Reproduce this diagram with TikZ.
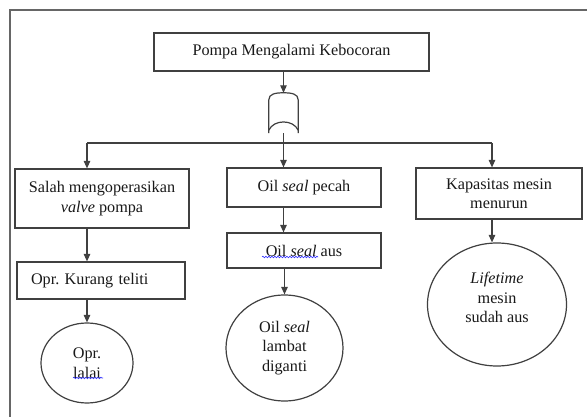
\documentclass[tikz,border=0pt]{standalone}
\usepackage{fontspec}
\setmainfont{Liberation Serif}
\frenchspacing
\usetikzlibrary{shapes.geometric,arrows.meta,decorations.pathmorphing,calc}
\begin{document}
\begin{tikzpicture}[x=1pt,y=-1pt,
  every node/.style={font=\fontsize{16.2}{19.5}\selectfont, text=black!90},
  box/.style={draw=black!75, line width=1.2pt, inner sep=0pt, align=center},
  oval/.style={draw=black!75, line width=1.2pt, ellipse, inner sep=0pt, align=center},
  link/.style={draw=black!75, line width=1.1pt},
  arr/.style={link, -{Triangle[length=7.5pt,width=6.5pt]}},
  squiggle/.style={draw=blue!80, line width=0.6pt, decorate,
    decoration={snake, amplitude=0.8pt, segment length=3pt}}]
\useasboundingbox (0,0) rectangle (587,417);
\fill[white] (0,0) rectangle (587,417);
% outer frame
\draw[gray!80!black, line width=1.6pt] (10,430) -- (10,10) -- (600,10);

% boxes
\node[box, minimum width=275pt, minimum height=38pt] (top) at (291.5,52) {Pompa Mengalami Kebocoran};
\node[minimum width=29pt, minimum height=40pt, inner sep=0pt] (gate) at (283.5,113) {};
\node[box, minimum width=174pt, minimum height=59pt] (salah) at (102,198.5) {Salah mengoperasikan\\\textit{valve} pompa};
\node[box, minimum width=154pt, minimum height=39pt] (pecah) at (304,187.5) {Oil \textit{seal} pecah};
\node[box, minimum width=166pt, minimum height=51pt] (kap) at (499,193.5) {Kapasitas mesin\\menurun};
\node[box, minimum height=37pt, text width=140pt, inner xsep=14pt, align=left] (opr) at (101,280.5) {Opr. Kurang teliti};
\node[box, minimum width=154pt, minimum height=35pt] (aus) at (304,250.5) {Oil \textit{seal} aus};

% end events
\node[oval, minimum width=92pt, minimum height=80pt] (lalai) at (87,363) {Opr.\\lalai};
\node[oval, minimum width=117pt, minimum height=106pt] (lambat) at (284.5,348) {Oil \textit{seal}\\lambat\\diganti};
\node[oval, minimum width=139pt, minimum height=123pt] (life) at (497,304.5) {};
\node[align=center, inner sep=0pt] (lifetxt) at ($(life.center)+(0,-7)$) {\textit{Lifetime}\\mesin\\sudah aus};

% gate symbol
\draw[link, line width=1.2pt] (gate.south west) -- ($(gate.north west)+(0,7)$)
  .. controls ($(gate.north west)+(0,1)$) and ($(gate.north)+(-8,0)$) .. (gate.north)
  .. controls ($(gate.north)+(8,0)$) and ($(gate.north east)+(0,1)$) .. ($(gate.north east)+(0,7)$)
  -- (gate.south east);
\draw[link, line width=1.2pt] ($(gate.south west)+(0,-3)$)
  .. controls ($(gate.south west)+(5,-14)$) and ($(gate.south east)+(-5,-14)$) .. ($(gate.south east)+(0,-3)$);

% connectors
\coordinate (hub) at (283.5,143);
\coordinate (barL) at (87,143);
\coordinate (barR) at (492,143);
\draw[arr] (top.south -| gate.north) -- (gate.north);
\draw[link] (gate.south) -- (hub);
\draw[link] (barL) -- (barR);
\draw[arr] (barL) -- (barL |- salah.north);
\draw[arr] (hub) -- (hub |- pecah.north);
\draw[arr] (barR) -- (barR |- kap.north);
\draw[arr] (barL |- salah.south) -- (barL |- opr.north);
\draw[arr] (opr.south -| lalai.north) -- (lalai.north);
\draw[arr] (hub |- pecah.south) -- (hub |- aus.north);
\draw[arr] (aus.south -| lambat.north) -- (lambat.north);
\draw[arr] (barR |- kap.south) -- (barR |- life.north);

% spell-check underlines
\draw[squiggle] (262,257) -- (318,257);
\draw[squiggle] (73,378) -- (103,378);
\end{tikzpicture}
\end{document}
